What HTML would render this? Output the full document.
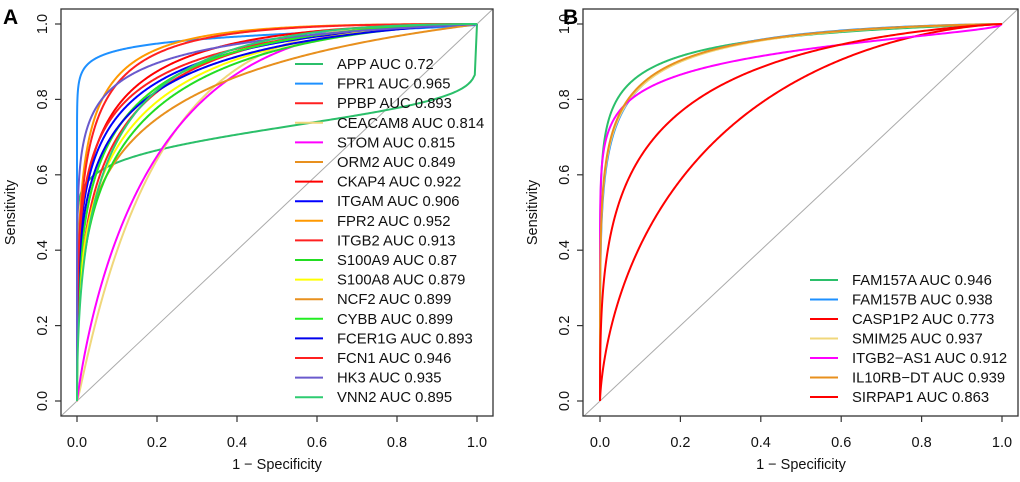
<!DOCTYPE html>
<html><head><meta charset="utf-8"><style>
body{margin:0;background:#fff}
svg text{font-family:"Liberation Sans",Arial,sans-serif}
</style></head><body>
<svg id="chart" width="1020" height="477" viewBox="0 0 1020 477" xmlns="http://www.w3.org/2000/svg"></svg>
<script>
// Panel A data
const namesA = ["APP","FPR1","PPBP","CEACAM8","STOM","ORM2","CKAP4","ITGAM","FPR2","ITGB2","S100A9","S100A8","NCF2","CYBB","FCER1G","FCN1","HK3","VNN2"];
const aucA = [0.72,0.965,0.893,0.814,0.815,0.849,0.922,0.906,0.952,0.913,0.87,0.879,0.899,0.899,0.893,0.946,0.935,0.895];
const shapeA = [0.2,0.35,0.9,1.4,1.25,0.7,0.85,0.75,0.95,0.75,0.85,0.85,0.85,0.85,0.75,0.95,0.6,1.0];
const colorsA = ["#2bbf6a","#1e90ff","#ff2020","#f0d77b","#ff00ff","#e8901e","#ff0000","#0000ff","#ff9900","#ff2020","#22dd22","#ffff00","#e8901e","#22ee22","#0000ee","#ff2020","#6a5acd","#2ecc71"];
// Panel B data
const namesB = ["FAM157A","FAM157B","CASP1P2","SMIM25","ITGB2-AS1","IL10RB-DT","SIRPAP1"];
const aucB = [0.946,0.938,0.773,0.937,0.912,0.939,0.863];
const shapeB = [0.6,0.75,1.0,0.72,0.45,0.72,0.8];
const colorsB = ["#2bbf6a","#1e90ff","#ff0000","#f0d77b","#ff00ff","#e8901e","#ff0000"];
const xTicks = [0,0.2,0.4,0.6,0.8,1.0];
const xTickLabels = ["0.0","0.2","0.4","0.6","0.8","1.0"];
const yTickLabels = ["0.0","0.2","0.4","0.6","0.8","1.0"];

const svg = document.getElementById('chart');
const NS = "http://www.w3.org/2000/svg";
function mk(tag, attrs, parent){const e=document.createElementNS(NS,tag);for(const k in attrs)e.setAttribute(k,attrs[k]);(parent||svg).appendChild(e);return e;}
function erf(x){const s=x<0?-1:1;x=Math.abs(x);const t=1/(1+0.3275911*x);const y=1-(((((1.061405429*t-1.453152027)*t)+1.421413741)*t-0.284496736)*t+0.254829592)*t*Math.exp(-x*x);return s*y;}
function pnorm(z){return 0.5*(1+erf(z/Math.SQRT2));}
function qnorm(p){
const a=[-39.6968302866538,220.946098424521,-275.928510446969,138.357751867269,-30.6647980661472,2.50662827745924];
const b=[-54.4760987982241,161.585836858041,-155.698979859887,66.8013118877197,-13.2806815528857];
const c=[-0.00778489400243029,-0.322396458041136,-2.40075827716184,-2.54973253934373,4.37466414146497,2.93816398269878];
const d=[0.00778469570904146,0.32246712907004,2.445134137143,3.75440866190742];
const pl=0.02425;let q,r;
if(p<pl){q=Math.sqrt(-2*Math.log(p));return(((((c[0]*q+c[1])*q+c[2])*q+c[3])*q+c[4])*q+c[5])/((((d[0]*q+d[1])*q+d[2])*q+d[3])*q+1);}
if(p>1-pl){q=Math.sqrt(-2*Math.log(1-p));return-(((((c[0]*q+c[1])*q+c[2])*q+c[3])*q+c[4])*q+c[5])/((((d[0]*q+d[1])*q+d[2])*q+d[3])*q+1);}
q=p-0.5;r=q*q;return(((((a[0]*r+a[1])*r+a[2])*r+a[3])*r+a[4])*r+a[5])*q/(((((b[0]*r+b[1])*r+b[2])*r+b[3])*r+b[4])*r+1);}

function panel(cfg){
  const g=mk('g',{});
  const xs=v=>cfg.x0+v*(cfg.x1-cfg.x0);
  const ys=v=>cfg.y0+v*(cfg.y1-cfg.y0);
  const clipId='clip-'+cfg.id;
  const defs=mk('defs',{},g);
  const cp=mk('clipPath',{id:clipId},defs);
  mk('rect',{x:cfg.bl,y:cfg.bt,width:cfg.br-cfg.bl,height:cfg.bb-cfg.bt},cp);
  const diag=mk('line',{x1:cfg.bl,y1:ys((cfg.bl-cfg.x0)/(cfg.x1-cfg.x0)),x2:cfg.br,y2:ys((cfg.br-cfg.x0)/(cfg.x1-cfg.x0)),stroke:'#aaaaaa','stroke-width':1,'clip-path':`url(#${clipId})`},g);
  
  
  cfg.names.forEach((n,i)=>{
    const bb=cfg.shape[i];
    const a=qnorm(cfg.auc[i])*Math.sqrt(1+bb*bb);
    let pts=[[xs(0),ys(0)]];
    for(let k=1;k<400;k++){
      const t=k/400;const f=Math.pow(t,2.2);
      const fpr=Math.min(f,1-1e-6);
      const tpr=pnorm(a+bb*qnorm(Math.max(fpr,1e-7)));
      pts.push([xs(fpr),ys(tpr)]);
    }
    pts.push([xs(1),ys(1)]);
    const p=mk('path',{d:'M'+pts.map(q=>q[0].toFixed(2)+','+q[1].toFixed(2)).join('L'),fill:'none',stroke:cfg.colors[i],'stroke-width':2,'clip-path':`url(#${clipId})`},g);
    
    
  });
  mk('rect',{x:cfg.bl,y:cfg.bt,width:cfg.br-cfg.bl,height:cfg.bb-cfg.bt,fill:'none',stroke:'#333','stroke-width':1.3,},g);
  xTicks.forEach((v,i)=>{
    mk('line',{x1:xs(v),x2:xs(v),y1:cfg.bb,y2:cfg.bb+6,stroke:'#333','stroke-width':1.2},g);
    const t=mk('text',{x:xs(v),y:cfg.bb+31,'font-size':14.5,'text-anchor':'middle',fill:'#111'},g);
    t.textContent=xTickLabels[i];
    
    
  });
  xTicks.forEach((v,i)=>{
    mk('line',{x1:cfg.bl,x2:cfg.bl-6,y1:ys(v),y2:ys(v),stroke:'#333','stroke-width':1.2},g);
    const t=mk('text',{x:0,y:0,'font-size':14.5,'text-anchor':'middle',fill:'#111',transform:`translate(${cfg.bl-14},${ys(v)}) rotate(-90)`},g);
    t.textContent=yTickLabels[i];
    
    
  });
  const xl=mk('text',{x:(xs(0)+xs(1))/2,y:469,'font-size':14.5,'text-anchor':'middle',fill:'#111',},g);
  xl.textContent='1 \u2212 Specificity';
  const yl=mk('text',{x:0,y:0,'font-size':14.5,'text-anchor':'middle',fill:'#111',transform:`translate(${cfg.bl-46},${(ys(0)+ys(1))/2}) rotate(-90)`,},g);
  yl.textContent='Sensitivity';
  const pl=mk('text',{x:cfg.lx,y:24,'font-size':21,'font-weight':'bold',fill:'#000',},g);
  pl.textContent=cfg.label;
  const lg=mk('g',{},g);
  cfg.names.forEach((n,i)=>{
    const y=cfg.legY+i*cfg.legDy;
    const e=mk('g',{},lg);
    
    
    mk('line',{x1:cfg.legX,x2:cfg.legX+28,y1:y,y2:y,stroke:cfg.colors[i],'stroke-width':2},e);
    const t=mk('text',{x:cfg.legX+42,y:y+5,'font-size':14.8,fill:'#111'},e);
    t.textContent=n.replace('-','\u2212')+' AUC '+cfg.auc[i];
  });
}
panel({id:'panel-a',label:'A',lx:3,x0:77,x1:477,y0:401,y1:24,bl:61,br:493,bt:9,bb:416,names:namesA,auc:aucA,shape:shapeA,colors:colorsA,legX:295,legY:64,legDy:19.6});
panel({id:'panel-b',label:'B',lx:563,x0:600,x1:1002,y0:401,y1:24,bl:583,br:1018,bt:9,bb:416,names:namesB,auc:aucB,shape:shapeB,colors:colorsB,legX:810,legY:280,legDy:19.5});
</script>
</body></html>
